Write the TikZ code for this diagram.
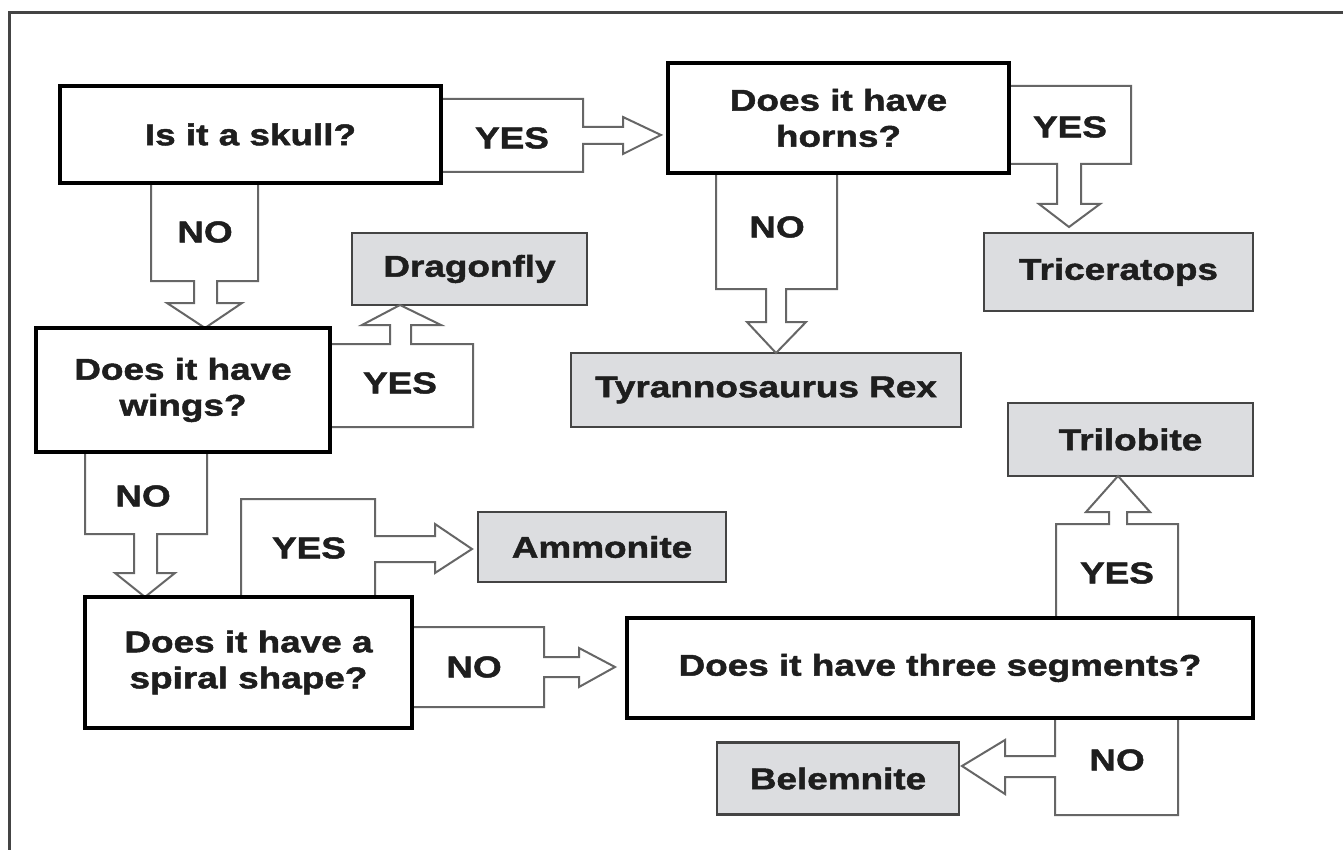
\documentclass[tikz,border=0pt]{standalone}
\usepackage{fontspec}
\newfontfamily\labfont{Liberation Sans}[FakeStretch=1.23, FakeBold=1.6]
\usetikzlibrary{calc}
\definecolor{ink}{HTML}{1E1E1E}
\definecolor{boxgray}{HTML}{DCDDE0}
\definecolor{arrline}{HTML}{666666}
\definecolor{frameline}{HTML}{444444}
\tikzset{
  every node/.style={font=\labfont\bfseries\fontsize{30}{36}\selectfont, text=ink, align=center, inner sep=0pt, outer sep=0pt},
  qbox/.style={draw=black, line width=4pt, fill=white},
  abox/.style={draw=frameline, line width=2.6pt, fill=boxgray},
  blockarrow/.style={draw=arrline, line width=2pt, fill=white, line join=miter},
  lbl/.style={}
}
\begin{document}
\begin{tikzpicture}[x=1pt,y=-1pt]
\useasboundingbox (0,0) rectangle (1343,850);
\fill[white] (0,0) rectangle (1343,850);
\draw[frameline, line width=3pt] (9,852) -- (9,13) -- (1345,13);

% question boxes
\node[qbox, minimum width=381pt, minimum height=97pt] (skull) at (250.5,134.5) {Is it a skull?};
\node[qbox, minimum width=341pt, minimum height=110pt] (horns) at (838.5,118) {Does it have\\horns?};
\node[qbox, minimum width=294pt, minimum height=124pt] (wings) at (183,390) {Does it have\\wings?};
\node[qbox, minimum width=327pt, minimum height=131pt] (spiral) at (248.5,662.5) {Does it have a\\spiral shape?};
\node[qbox, minimum width=626pt, minimum height=100pt] (seg) at (940,668) {Does it have three segments?};

% answer boxes
\node[abox, minimum width=269pt, minimum height=78pt] (tric) at (1118.5,272) {Triceratops};
\node[abox, minimum width=390pt, minimum height=74pt] (trex) at (766,390) {Tyrannosaurus Rex};
\node[abox, minimum width=235pt, minimum height=72pt] (drag) at (469.5,269) {Dragonfly};
\node[abox, minimum width=248pt, minimum height=70pt] (ammo) at (602,547) {Ammonite};
\node[abox, minimum width=245pt, minimum height=73pt] (tril) at (1130.5,439.5) {Trilobite};
\node[abox, minimum width=242pt, minimum height=72pt] (bel) at (838,778.5) {Belemnite};

% block arrows
% skull -> horns (YES)
\draw[blockarrow] ($(skull.north east)+(0,13)$) -- ++(142,0) -- ++(0,28) -- ++(40,0) -- ++(0,-10) -- ++(38,18) -- ++(-38,19) -- ++(0,-10) -- ++(-40,0) -- ++(0,28) -- ++(-142,0);
% skull -> wings (NO)
\draw[blockarrow] ($(skull.south west)+(91,0)$) -- ++(0,98) -- ++(43,0) -- ++(0,22) -- ++(-27,0) -- ++(38,25) -- ++(37,-25) -- ++(-25,0) -- ++(0,-22) -- ++(41,0) -- ++(0,-98);
% wings -> dragonfly (YES)
\draw[blockarrow] ($(wings.north east)+(0,16)$) -- ++(60,0) -- ++(0,-19) -- ++(-28,0) -- ++(38,-20) -- ++(41,20) -- ++(-30,0) -- ++(0,19) -- ++(62,0) -- ++(0,83) -- ++(-143,0);
% horns -> triceratops (YES)
\draw[blockarrow] ($(horns.north east)+(0,23)$) -- ++(122,0) -- ++(0,78) -- ++(-50,0) -- ++(0,40) -- ++(19,0) -- ++(-31,23) -- ++(-30,-23) -- ++(18,0) -- ++(0,-40) -- ++(-48,0);
% horns -> trex (NO)
\draw[blockarrow] ($(horns.south west)+(48,0)$) -- ++(0,116) -- ++(50,0) -- ++(0,33) -- ++(-19,0) -- ++(29,31) -- ++(30,-31) -- ++(-20,0) -- ++(0,-33) -- ++(51,0) -- ++(0,-116);
% wings -> spiral (NO)
\draw[blockarrow] ($(wings.south west)+(49,0)$) -- ++(0,82) -- ++(49,0) -- ++(0,39) -- ++(-19,0) -- ++(30,24) -- ++(30,-24) -- ++(-18,0) -- ++(0,-39) -- ++(50,0) -- ++(0,-82);
% spiral -> ammonite (YES)
\draw[blockarrow] ($(spiral.north west)+(156,0)$) -- ++(0,-98) -- ++(134,0) -- ++(0,37) -- ++(60,0) -- ++(0,-12) -- ++(37,25) -- ++(-37,24) -- ++(0,-11) -- ++(-60,0) -- ++(0,35);
% spiral -> segments (NO)
\draw[blockarrow] ($(spiral.north east)+(0,30)$) -- ++(132,0) -- ++(0,30) -- ++(35,0) -- ++(0,-9) -- ++(36,19) -- ++(-36,20) -- ++(0,-10) -- ++(-35,0) -- ++(0,30) -- ++(-132,0);
% segments -> trilobite (YES)
\draw[blockarrow] ($(seg.north west)+(429,0)$) -- ++(0,-94) -- ++(53,0) -- ++(0,-12) -- ++(-23,0) -- ++(32,-36) -- ++(32,36) -- ++(-23,0) -- ++(0,12) -- ++(51,0) -- ++(0,94);
% segments -> belemnite (NO)
\draw[blockarrow] ($(seg.south west)+(428,0)$) -- ++(0,38) -- ++(-50,0) -- ++(0,-16) -- ++(-43,26) -- ++(43,28) -- ++(0,-17) -- ++(50,0) -- ++(0,38) -- ++(123,0) -- ++(0,-97);

% redraw question-box borders over the arrow ends
\draw[black, line width=4pt] (skull.south west) rectangle (skull.north east);
\draw[black, line width=4pt] (horns.south west) rectangle (horns.north east);
\draw[black, line width=4pt] (wings.south west) rectangle (wings.north east);
\draw[black, line width=4pt] (spiral.south west) rectangle (spiral.north east);
\draw[black, line width=4pt] (seg.south west) rectangle (seg.north east);

% labels
\node[lbl] (l1) at (512,138) {YES};
\node[lbl] (l2) at (205,232) {NO};
\node[lbl] (l3) at (400,383) {YES};
\node[lbl] (l4) at (1070,127) {YES};
\node[lbl] (l5) at (777,227) {NO};
\node[lbl] (l6) at (143,496) {NO};
\node[lbl] (l7) at (309,548) {YES};
\node[lbl] (l8) at (474,667) {NO};
\node[lbl] (l9) at (1117,573) {YES};
\node[lbl] (l10) at (1117,760) {NO};
\end{tikzpicture}
\end{document}
